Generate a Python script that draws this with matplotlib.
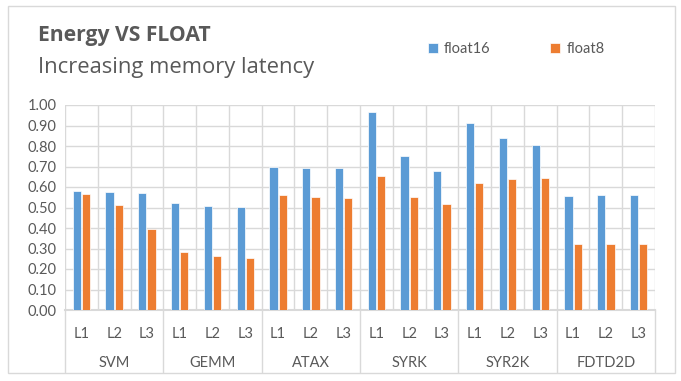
import numpy as np
import matplotlib
matplotlib.use("Agg")
import matplotlib.pyplot as plt
from matplotlib.lines import Line2D
from matplotlib.patches import Rectangle
import matplotlib.transforms as mtransforms

plt.rcParams['font.family'] = ['Lato', 'DejaVu Sans']

groups = ["SVM", "GEMM", "ATAX", "SYRK", "SYR2K", "FDTD2D"]
levels = ["L1", "L2", "L3"]
float16 = [0.582, 0.577, 0.572,
           0.523, 0.507, 0.502,
           0.698, 0.693, 0.693,
           0.966, 0.750, 0.678,
           0.911, 0.837, 0.805,
           0.555, 0.559, 0.561]
float8 = [0.564, 0.512, 0.397,
          0.283, 0.262, 0.254,
          0.561, 0.550, 0.545,
          0.654, 0.550, 0.516,
          0.621, 0.637, 0.645,
          0.322, 0.322, 0.322]
y_ticks = [0.0, 0.1, 0.2, 0.3, 0.4, 0.5, 0.6, 0.7, 0.8, 0.9, 1.0]

BLUE = "#5B9BD5"
ORANGE = "#ED7D31"
TEXT = "#595959"
GRID = "#D9D9D9"

W, H = 681, 381
fig = plt.figure(figsize=(W / 100, H / 100), dpi=100)

# outer chart frame
fig.patches.append(Rectangle((8 / W, 1 - 373 / H), 667 / W, 367 / H,
                             transform=fig.transFigure, fill=False,
                             edgecolor=GRID, linewidth=1.0))

ax = fig.add_axes([65 / W, 1 - 310 / H, 590 / W, 205 / H])

n = len(float16)
x = np.arange(n)
bw = 0.25
ax.bar(x - 0.14, float16, width=bw, color=BLUE, edgecolor="white",
       linewidth=0.5, zorder=3, label="float16")
ax.bar(x + 0.14, float8, width=bw, color=ORANGE, edgecolor="white",
       linewidth=0.5, zorder=3, label="float8")

ax.set_xlim(-0.5, n - 0.5)
ax.set_ylim(0, 1.0)
ax.set_yticks(y_ticks)
ax.set_yticklabels([f"{v:.2f}" for v in y_ticks], color=TEXT, fontsize=10.5)
ax.set_xticks(x)
ax.set_xticklabels(levels * len(groups), color=TEXT, fontsize=10.5)
ax.set_xticks(np.arange(-0.5, n, 1), minor=True)
ax.tick_params(axis="both", which="both", length=0)
ax.tick_params(axis="x", pad=12)
ax.tick_params(axis="y", pad=6)

ax.grid(axis="y", color=GRID, linewidth=1.0, zorder=0)
ax.grid(axis="x", which="minor", color=GRID, linewidth=1.0, zorder=0)
ax.grid(axis="x", which="major", visible=False)
for s in ("top", "right", "left"):
    ax.spines[s].set_visible(False)
ax.spines["bottom"].set_color(GRID)
ax.spines["bottom"].set_linewidth(1.5)

# group separators and group names under the axis
trans = mtransforms.blended_transform_factory(ax.transData, fig.transFigure)
for g in range(len(groups) + 1):
    xb = g * 3 - 0.5
    ax.add_line(Line2D([xb, xb], [1 - 310 / H, 1 - 372 / H], transform=trans,
                       color=GRID, linewidth=1.0, clip_on=False))
for g, name in enumerate(groups):
    ax.text(g * 3 + 1, 1 - 363 / H, name, transform=trans, ha="center",
            va="center", color=TEXT, fontsize=10.5)

fig.text(38 / W, 1 - 41 / H, "Energy VS FLOAT", fontsize=15.2,
         fontweight="bold", color=TEXT, ha="left", va="baseline",
         family=["Open Sans", "DejaVu Sans"])
fig.text(38 / W, 1 - 73.5 / H, "Increasing memory latency", fontsize=15.8,
         color=TEXT, ha="left", va="baseline",
         family=["Open Sans", "DejaVu Sans"])

fig.legend(loc="center", bbox_to_anchor=(516 / W, 1 - 49 / H), ncol=2,
           frameon=False, fontsize=10.5, labelcolor=TEXT, handlelength=0.7,
           handleheight=0.7, columnspacing=4.1, handletextpad=0.4)

fig.savefig("out.png", dpi=100)
